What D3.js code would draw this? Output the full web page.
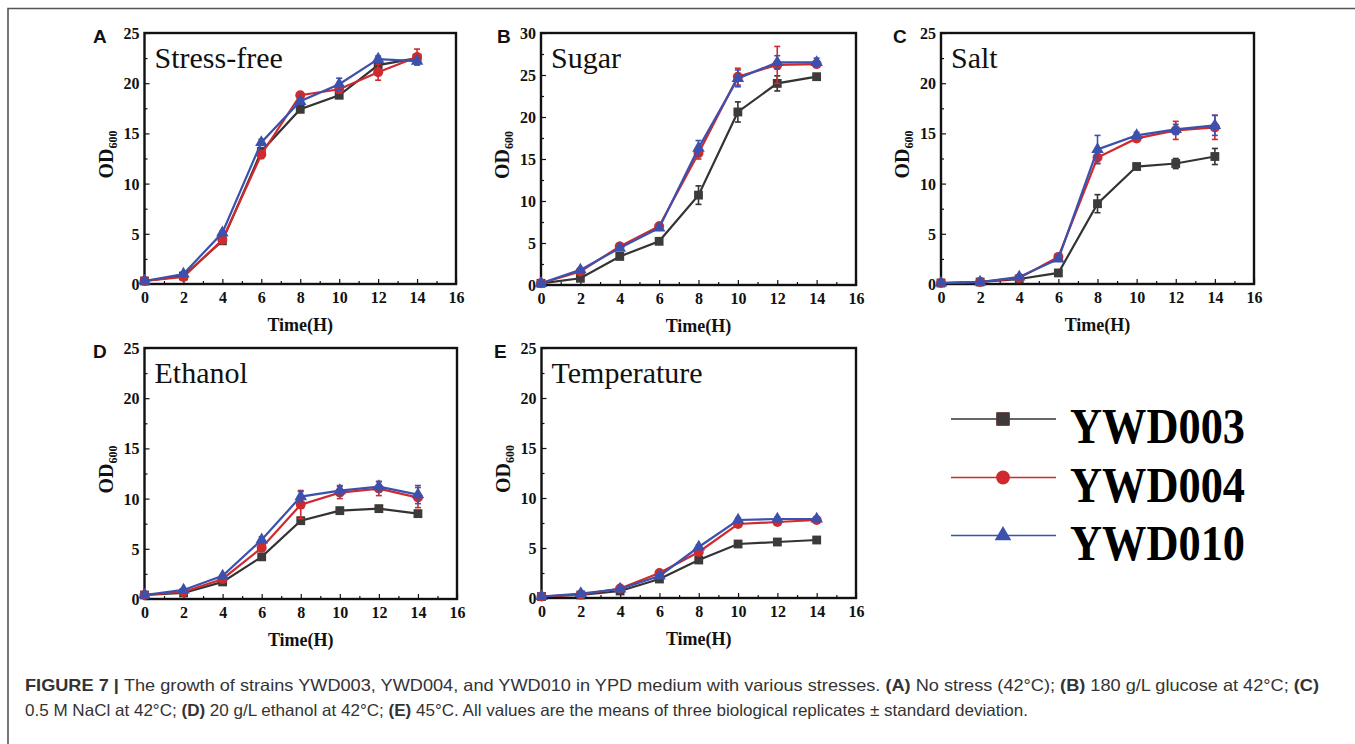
<!DOCTYPE html>
<html>
<head>
<meta charset="utf-8">
<script src="https://cdn.jsdelivr.net/npm/d3@7"></script>
<style>
  body { margin: 0; background: #fff; }
  svg { display: block; }
</style>
</head>
<body>
<svg id="fig" width="1355" height="744"></svg>
<script>
/* sampling times (hours) */
const times = [0, 2, 4, 6, 8, 10, 12, 14];
const strains = ['YWD003', 'YWD004', 'YWD010'];

/* means, one row per strain: YWD003, YWD004, YWD010 */
const meanA = [[0.3, 0.8, 4.3, 13.2, 17.4, 18.8, 21.8, 22.5],
               [0.3, 0.7, 4.4, 12.9, 18.8, 19.4, 21.1, 22.6],
               [0.3, 1.0, 5.1, 14.1, 18.2, 19.9, 22.4, 22.2]];
const sdA   = [[0.05, 0.1, 0.2, 0.3, 0.3, 0.3, 0.4, 0.3],
               [0.05, 0.1, 0.2, 0.4, 0.3, 0.4, 0.8, 0.8],
               [0.05, 0.1, 0.2, 0.3, 0.3, 0.6, 0.3, 0.3]];
const meanB = [[0.2, 0.8, 3.4, 5.2, 10.7, 20.6, 24.0, 24.8],
               [0.2, 1.6, 4.6, 7.0, 15.7, 24.8, 26.2, 26.3],
               [0.2, 1.8, 4.4, 6.8, 16.3, 24.6, 26.5, 26.5]];
const sdB   = [[0.05, 0.1, 0.2, 0.2, 1.1, 1.2, 0.9, 0.3],
               [0.05, 0.1, 0.2, 0.2, 0.7, 1.0, 2.2, 0.4],
               [0.05, 0.1, 0.2, 0.2, 0.9, 1.0, 0.8, 0.5]];
const meanC = [[0.1, 0.2, 0.5, 1.1, 8.0, 11.7, 12.0, 12.7],
               [0.1, 0.2, 0.6, 2.7, 12.6, 14.5, 15.3, 15.6],
               [0.1, 0.2, 0.7, 2.5, 13.4, 14.8, 15.4, 15.8]];
const sdC   = [[0.05, 0.05, 0.1, 0.2, 0.9, 0.3, 0.5, 0.8],
               [0.05, 0.05, 0.1, 0.2, 0.6, 0.3, 0.9, 1.2],
               [0.05, 0.05, 0.1, 0.2, 1.4, 0.3, 0.5, 1.0]];
const meanD = [[0.4, 0.6, 1.7, 4.2, 7.8, 8.8, 9.0, 8.5],
               [0.4, 0.7, 2.0, 5.1, 9.4, 10.6, 11.0, 10.1],
               [0.4, 0.9, 2.3, 5.9, 10.2, 10.8, 11.2, 10.4]];
const sdD   = [[0.05, 0.1, 0.1, 0.2, 0.3, 0.3, 0.3, 0.3],
               [0.05, 0.1, 0.1, 0.3, 1.4, 0.6, 0.7, 1.0],
               [0.05, 0.1, 0.1, 0.3, 0.5, 0.5, 0.5, 0.9]];
const meanE = [[0.15, 0.3, 0.7, 1.9, 3.8, 5.4, 5.6, 5.8],
               [0.15, 0.35, 0.95, 2.5, 4.6, 7.4, 7.6, 7.8],
               [0.15, 0.45, 0.9, 2.2, 5.1, 7.8, 7.9, 7.9]];
const sdE   = [[0.05, 0.05, 0.1, 0.1, 0.2, 0.2, 0.2, 0.2],
               [0.05, 0.05, 0.1, 0.2, 0.3, 0.2, 0.2, 0.2],
               [0.05, 0.05, 0.1, 0.1, 0.2, 0.2, 0.2, 0.2]];

const titles = ['Stress-free', 'Sugar', 'Salt', 'Ethanol', 'Temperature'];
const letters = ['A', 'B', 'C', 'D', 'E'];
const yMax = [25, 30, 25, 25, 25];
const xTicks = [0, 2, 4, 6, 8, 10, 12, 14, 16];

/* layout */
const panels = [
  {l: 144.5, t: 33, r: 456, b: 284, lx: 93, mean: meanA, sd: sdA},
  {l: 541, t: 33, r: 856, b: 285, lx: 497, mean: meanB, sd: sdB},
  {l: 941, t: 33, r: 1254, b: 284, lx: 893, mean: meanC, sd: sdC},
  {l: 144.5, t: 348, r: 457, b: 599, lx: 93, mean: meanD, sd: sdD},
  {l: 541.5, t: 348, r: 856, b: 598, lx: 494, mean: meanE, sd: sdE}
];
const lineColor = ['#333333', '#cf2a2e', '#3b51ad'];
const fillColor = ['#3e3a3a', '#cf2a2e', '#3b51ad'];
const shapes = [d3.symbolSquare, d3.symbolCircle, d3.symbolTriangle];
const serif = '"Liberation Serif", "Times New Roman", serif';
const sans = '"Liberation Sans", Arial, Helvetica, sans-serif';

const svg = d3.select('#fig');

/* outer frame (top + left rule) */
svg.append('path').attr('d', 'M8,744V8.5H1355')
  .attr('fill', 'none').attr('stroke', '#555').attr('stroke-width', 1.6);

panels.forEach((p, i) => {
  const x = d3.scaleLinear().domain([0, 16]).range([p.l, p.r]);
  const y = d3.scaleLinear().domain([0, yMax[i]]).range([p.b, p.t]);
  const g = svg.append('g');

  /* minor ticks inward */
  const xMinor = d3.range(1, 16, 2);
  const yMinor = d3.range(2.5, yMax[i], 5);
  g.append('g').attr('transform', `translate(0,${p.b})`)
    .call(d3.axisTop(x).tickValues(xMinor).tickSize(3).tickFormat(''))
    .call(a => a.select('.domain').remove());
  g.append('g').attr('transform', `translate(${p.l},0)`)
    .call(d3.axisRight(y).tickValues(yMinor).tickSize(3).tickFormat(''))
    .call(a => a.select('.domain').remove());

  /* major ticks inward, labels outside */
  const xa = g.append('g').attr('transform', `translate(0,${p.b})`)
    .call(d3.axisTop(x).tickValues(xTicks).tickSize(5).tickFormat(d3.format('d')));
  xa.select('.domain').remove();
  xa.selectAll('text').attr('y', 19).attr('dy', 0)
    .attr('font-family', serif).attr('font-weight', 'bold').attr('font-size', 16).attr('fill', '#111');
  const ya = g.append('g').attr('transform', `translate(${p.l},0)`)
    .call(d3.axisRight(y).ticks(yMax[i] / 5).tickSize(5).tickFormat(d3.format('d')));
  ya.select('.domain').remove();
  ya.selectAll('text').attr('x', -5).attr('dy', '0.34em').attr('text-anchor', 'end')
    .attr('font-family', serif).attr('font-weight', 'bold').attr('font-size', 16).attr('fill', '#111');
  g.selectAll('.tick line').attr('stroke', '#111').attr('stroke-width', 1.2);

  /* box */
  g.append('rect').attr('x', p.l).attr('y', p.t)
    .attr('width', p.r - p.l).attr('height', p.b - p.t)
    .attr('fill', 'none').attr('stroke', '#111').attr('stroke-width', 2.4);

  /* series */
  p.mean.forEach((row, s) => {
    const pts = times.map((t, k) => ({t, v: row[k], e: p.sd[s][k]}));
    g.append('path').datum(pts)
      .attr('d', d3.line().x(d => x(d.t)).y(d => y(d.v)))
      .attr('fill', 'none').attr('stroke', lineColor[s]).attr('stroke-width', 2.2);
    const eb = g.append('g').attr('stroke', lineColor[s]).attr('stroke-width', 1.6);
    pts.forEach(d => {
      eb.append('line').attr('x1', x(d.t)).attr('x2', x(d.t))
        .attr('y1', y(d.v - d.e)).attr('y2', y(d.v + d.e));
      [d.v - d.e, d.v + d.e].forEach(v => eb.append('line')
        .attr('x1', x(d.t) - 3).attr('x2', x(d.t) + 3)
        .attr('y1', y(v)).attr('y2', y(v)));
    });
    g.append('g').selectAll('path').data(pts).enter().append('path')
      .attr('d', d3.symbol().type(shapes[s]).size(s === 2 ? 68 : 78))
      .attr('transform', d => `translate(${x(d.t)},${y(d.v)})`)
      .attr('fill', fillColor[s]);
  });

  /* panel title + letter */
  svg.append('text').attr('x', p.l + 10).attr('y', p.t + 35)
    .attr('font-family', serif).attr('font-size', 30).attr('fill', '#111').text(titles[i]);
  svg.append('text').attr('x', p.lx).attr('y', p.t + 10)
    .attr('font-family', sans).attr('font-weight', 'bold').attr('font-size', 19).attr('fill', '#111')
    .text(letters[i]);

  /* axis titles */
  svg.append('text').attr('x', (p.l + p.r) / 2).attr('y', p.b + 47)
    .attr('text-anchor', 'middle').attr('font-family', serif).attr('font-weight', 'bold')
    .attr('font-size', 18).attr('fill', '#111').text('Time(H)');
  const od = svg.append('text')
    .attr('transform', `translate(${p.l - 32},${(p.t + p.b) / 2 - 4}) rotate(-90)`)
    .attr('text-anchor', 'middle').attr('font-family', serif).attr('font-weight', 'bold')
    .attr('font-size', 20).attr('fill', '#111');
  od.append('tspan').text('OD');
  od.append('tspan').attr('font-size', 12).attr('dy', 4).text('600');
});

/* legend */
const legY = [419, 477.5, 535.5];
const lg = svg.append('g');
strains.forEach((name, s) => {
  lg.append('line').attr('x1', 951).attr('x2', 1056).attr('y1', legY[s]).attr('y2', legY[s])
    .attr('stroke', lineColor[s]).attr('stroke-width', 1.6);
  lg.append('path')
    .attr('d', d3.symbol().type(shapes[s]).size(s === 2 ? 120 : (s === 1 ? 150 : 160)))
    .attr('transform', `translate(1003,${legY[s]})`)
    .attr('fill', fillColor[s]).attr('stroke', s === 0 ? '#5a3434' : 'none').attr('stroke-width', 1);
  lg.append('text').attr('x', 1070).attr('y', legY[s] + 24)
    .attr('font-family', serif).attr('font-weight', 'bold').attr('font-size', 50)
    .attr('textLength', 175).attr('lengthAdjust', 'spacingAndGlyphs')
    .attr('fill', '#000').text(name);
});

/* caption */
const cap1 = svg.append('text').attr('x', 25).attr('y', 691)
  .attr('font-family', sans).attr('font-size', 16.5).attr('fill', '#333')
  .attr('textLength', 1294).attr('lengthAdjust', 'spacingAndGlyphs');
[['FIGURE 7 | ', true], ['The growth of strains YWD003, YWD004, and YWD010 in YPD medium with various stresses. ', false],
 ['(A)', true], [' No stress (42°C); ', false], ['(B)', true], [' 180 g/L glucose at 42°C; ', false], ['(C)', true]]
  .forEach(([t, b]) => cap1.append('tspan').attr('font-weight', b ? 'bold' : 'normal').text(t));
const cap2 = svg.append('text').attr('x', 25).attr('y', 716)
  .attr('font-family', sans).attr('font-size', 16.5).attr('fill', '#333')
  .attr('textLength', 1003).attr('lengthAdjust', 'spacingAndGlyphs');
[['0.5 M NaCl at 42°C; ', false], ['(D)', true], [' 20 g/L ethanol at 42°C; ', false], ['(E)', true],
 [' 45°C. All values are the means of three biological replicates ± standard deviation.', false]]
  .forEach(([t, b]) => cap2.append('tspan').attr('font-weight', b ? 'bold' : 'normal').text(t));
</script>
</body>
</html>
